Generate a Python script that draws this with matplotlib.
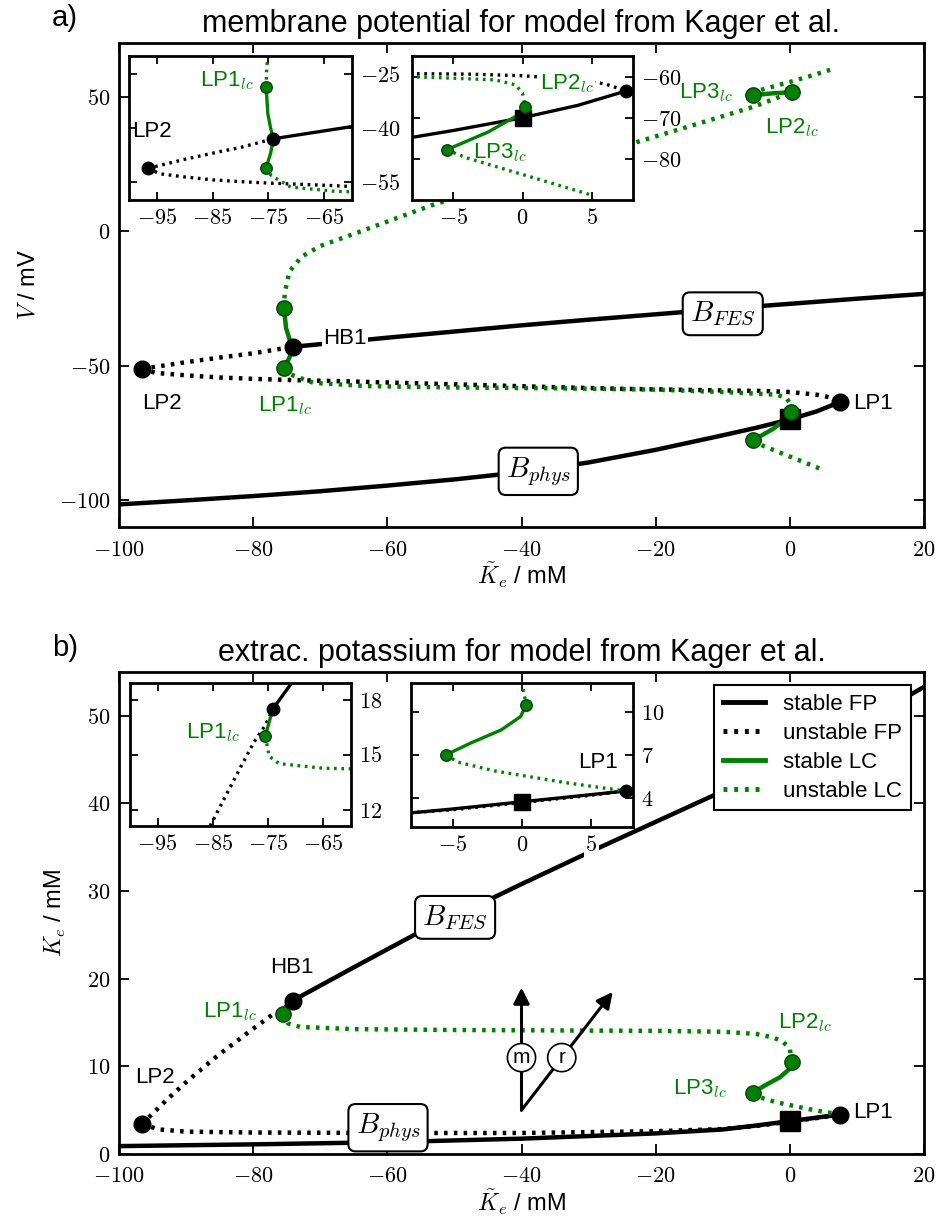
import matplotlib.pyplot as plt
from matplotlib.lines import Line2D
from matplotlib.ticker import FuncFormatter

plt.rcParams['font.family'] = ['Liberation Sans', 'DejaVu Sans']
plt.rcParams['mathtext.fontset'] = 'cm'

GREEN = 'green'
DOT = (0, (0.8, 1.4))

# ---------------- panel a: membrane potential ----------------
a_stable_phys_k = [-100, -90, -80, -70, -60, -50, -40, -30, -20, -10, -5, 0, 4, 7.5]
a_stable_phys_v = [-101.6, -100.1, -98.5, -96.7, -94.6, -92.3, -89.6, -86.0, -81.3, -75.9, -73.1, -70.0, -67.0, -63.5]
a_stable_fes_k = [-74.1, -70, -60, -50, -40, -30, -20, -10, 0, 10, 20]
a_stable_fes_v = [-43.0, -42.0, -39.6, -37.3, -35.0, -32.9, -30.9, -28.9, -27.0, -25.1, -23.3]
a_unst_upper_k = [-96.6, -90, -85, -80, -74.1]
a_unst_upper_v = [-51.2, -48.7, -47.0, -45.4, -43.0]
a_unst_lower_k = [-96.6, -94.5, -90, -85, -80, -75, -65, -55, -45, -35, -25, -15, -8, -4, 0, 4, 6, 7.5]
a_unst_lower_v = [-51.2, -52.7, -53.6, -54.4, -54.9, -55.3, -55.9, -56.6, -57.3, -58.0, -58.6, -59.0, -59.3, -59.4, -59.8, -60.8, -61.8, -63.5]

a_lc_max_st1_k = [-74.1, -74.6, -75.1, -75.4]
a_lc_max_st1_v = [-43.0, -40.0, -36.0, -28.6]
a_lc_min_st1_k = [-74.1, -74.6, -75.4]
a_lc_min_st1_v = [-43.0, -47.0, -51.0]
a_lc_max_un1_k = [-75.4, -75.3, -74.6, -72.8, -70, -65, -59, -53, -45, -35, -23.4, -15, -5.5, 0.3]
a_lc_max_un1_v = [-28.6, -23, -15, -9.5, -5.5, -1, 4.5, 10, 16, 24, 32.7, 39, 46.2, 51.7]
a_lc_max_st2_k = [0.3, -2.5, -5.5]
a_lc_max_st2_v = [51.7, 51.3, 50.6]
a_lc_max_un2_k = [-5.5, -4.4, 0, 3, 6]
a_lc_max_un2_v = [50.6, 52.5, 55.5, 57.7, 60]
a_lc_min_un1_k = [-75.4, -74.5, -71, -63, -50, -35.7, -20, -10, -5, -2, -0.5, 0, 0.2]
a_lc_min_un1_v = [-51.0, -53.2, -56.4, -57.6, -58.1, -58.4, -58.9, -59.8, -60.4, -60.8, -62.0, -64.0, -67.3]
a_lc_min_st2_k = [0.2, -0.5, -2.5, -5.5]
a_lc_min_st2_v = [-67.3, -69.7, -73.5, -77.8]
a_lc_min_un2_k = [-5.5, -4, -1, 2, 5]
a_lc_min_un2_v = [-77.8, -79.8, -82.8, -85.8, -88.8]

a_bif_k = [-96.6, -74.1, 7.5]          # LP2, HB1, LP1
a_bif_v = [-51.2, -43.0, -63.5]
a_lcpt_k = [-75.4, -75.4, 0.2, 0.3, -5.5, -5.5]
a_lcpt_v = [-28.6, -51.0, -67.3, 51.7, 50.6, -77.8]
a_rest_k = [0]
a_rest_v = [-70]

# ---------------- panel b: extracellular potassium ----------------
b_stable_phys_k = [-100, -80, -60, -40, -20, -10, -5, 0, 4, 7.5]
b_stable_phys_ke = [0.9, 1.1, 1.35, 1.75, 2.35, 2.8, 3.25, 3.75, 4.15, 4.5]
b_stable_fes_k = [-74.1, -65, -56, -50, -40, -30, -20, -10, 0, 10, 20]
b_stable_fes_ke = [17.5, 21.3, 25.0, 27.1, 30.8, 34.4, 37.9, 41.4, 45.0, 48.9, 53.3]
b_unst_upper_k = [-96.6, -93, -90, -85.5, -80, -77.5, -75.5, -74.1]
b_unst_upper_ke = [3.4, 6.1, 8.2, 11.1, 14.3, 15.7, 16.6, 17.5]
b_unst_lower_k = [-96.6, -94, -90, -80, -60, -40, -20, -10, -5, 0, 4, 7.5]
b_unst_lower_ke = [3.4, 2.8, 2.55, 2.45, 2.4, 2.4, 2.6, 2.85, 3.2, 3.7, 4.1, 4.5]

b_lc_st1_k = [-74.1, -74.8, -75.5]
b_lc_st1_ke = [17.5, 16.8, 16.0]
b_lc_un1_k = [-75.5, -74.8, -73, -65, -50, -35, -20, -10, -5, -2.5, -1, 0, 0.3]
b_lc_un1_ke = [16.0, 14.9, 14.5, 14.25, 14.15, 14.1, 14.05, 13.95, 13.7, 13.3, 12.8, 12.0, 10.5]
b_lc_st2_k = [0.3, -0.1, -1.5, -3.7, -5.5]
b_lc_st2_ke = [10.5, 9.67, 8.74, 7.83, 7.0]
b_lc_un2_k = [-5.5, -4.6, -2, 0.5, 3, 5.2, 7.5]
b_lc_un2_ke = [7.0, 6.5, 5.9, 5.5, 5.1, 4.8, 4.5]

b_bif_k = [-96.6, -74.1, 7.5]
b_bif_ke = [3.4, 17.5, 4.5]
b_lcpt_k = [-75.5, 0.3, -5.5]
b_lcpt_ke = [16.0, 10.5, 7.0]
b_rest_k = [0]
b_rest_ke = [3.75]

# arrows (direction of m and r) in panel b
arrow_base = (-40, 5.0)
arrow_m_tip = (-40, 19.0)
arrow_r_tip = (-26.4, 18.5)
m_label_pos = (-40, 11.0)
r_label_pos = (-34, 11.0)

main_xticks = [-100, -80, -60, -40, -20, 0, 20]


def fmt(ax):
    f = FuncFormatter(lambda v, p: r'$%g$' % v)
    ax.xaxis.set_major_formatter(f)
    ax.yaxis.set_major_formatter(f)


def style(ax, inset=False):
    ax.tick_params(direction='in', top=True, right=True, length=7 if not inset else 6,
                   width=1.3, labelsize=16, pad=6)
    if inset:
        ax.tick_params(labelleft=False, labelright=True)
    else:
        ax.tick_params(axis='x', pad=9)
    for s in ax.spines.values():
        s.set_linewidth(2.0)
    fmt(ax)


def solid(ax, x, y, c, lw):
    ax.plot(x, y, color=c, lw=lw, solid_capstyle='butt', zorder=2)


def dotted(ax, x, y, c, lw):
    ax.plot(x, y, color=c, lw=lw, linestyle=DOT, zorder=2)


def draw_a(ax, lw, ms):
    solid(ax, a_stable_phys_k, a_stable_phys_v, 'k', lw)
    solid(ax, a_stable_fes_k, a_stable_fes_v, 'k', lw)
    dotted(ax, a_unst_upper_k, a_unst_upper_v, 'k', lw)
    dotted(ax, a_unst_lower_k, a_unst_lower_v, 'k', lw)
    dotted(ax, a_lc_max_un1_k, a_lc_max_un1_v, GREEN, lw)
    dotted(ax, a_lc_max_un2_k, a_lc_max_un2_v, GREEN, lw)
    dotted(ax, a_lc_min_un1_k, a_lc_min_un1_v, GREEN, lw)
    dotted(ax, a_lc_min_un2_k, a_lc_min_un2_v, GREEN, lw)
    solid(ax, a_lc_max_st1_k, a_lc_max_st1_v, GREEN, lw)
    solid(ax, a_lc_min_st1_k, a_lc_min_st1_v, GREEN, lw)
    solid(ax, a_lc_max_st2_k, a_lc_max_st2_v, GREEN, lw)
    solid(ax, a_lc_min_st2_k, a_lc_min_st2_v, GREEN, lw)
    ax.plot(a_rest_k, a_rest_v, 's', color='k', ms=ms * 1.25, zorder=4)
    ax.plot(a_lcpt_k, a_lcpt_v, 'o', color=GREEN, mec='#0a3d0a', mew=1, ms=ms * 0.92, zorder=5)
    ax.plot(a_bif_k, a_bif_v, 'o', color='k', ms=ms, zorder=5)


def draw_b(ax, lw, ms):
    solid(ax, b_stable_phys_k, b_stable_phys_ke, 'k', lw)
    solid(ax, b_stable_fes_k, b_stable_fes_ke, 'k', lw)
    dotted(ax, b_unst_upper_k, b_unst_upper_ke, 'k', lw)
    dotted(ax, b_unst_lower_k, b_unst_lower_ke, 'k', lw)
    dotted(ax, b_lc_un1_k, b_lc_un1_ke, GREEN, lw)
    dotted(ax, b_lc_un2_k, b_lc_un2_ke, GREEN, lw)
    solid(ax, b_lc_st1_k, b_lc_st1_ke, GREEN, lw)
    solid(ax, b_lc_st2_k, b_lc_st2_ke, GREEN, lw)
    ax.plot(b_rest_k, b_rest_ke, 's', color='k', ms=ms * 1.25, zorder=4)
    ax.plot(b_lcpt_k, b_lcpt_ke, 'o', color=GREEN, mec='#0a3d0a', mew=1, ms=ms * 0.92, zorder=5)
    ax.plot(b_bif_k, b_bif_ke, 'o', color='k', ms=ms, zorder=5)


def txt(ax, x, y, s, c='k', size=16, white=False):
    t = ax.text(x, y, s, color=c, fontsize=size, ha='center', va='center', zorder=7)
    if white:
        t.set_bbox(dict(fc='white', ec='none', pad=1))


def box(ax, x, y, s):
    ax.text(x, y, s, fontsize=21, ha='center', va='center', zorder=7,
            bbox=dict(boxstyle='round,pad=0.25', fc='white', ec='k', lw=1.5))


LC = r'$_{lc}$'

fig = plt.figure(figsize=(9.39, 12.24), dpi=100)

# ---------------- panel a ----------------
ax = fig.add_axes([119 / 939, 1 - 527 / 1224, 805 / 939, 484 / 1224])
draw_a(ax, 3.2, 12)
ax.set_xlim(-100, 20)
ax.set_ylim(-110, 70)
ax.set_xticks(main_xticks)
ax.set_yticks([-100, -50, 0, 50])
style(ax)
ax.set_xlabel(r'$\tilde{K}_e$ / mM', fontsize=17, labelpad=0)
ax.set_ylabel(r'$V$ / mV', fontsize=17, labelpad=14)
ax.set_title('membrane potential for model from Kager et al.', fontsize=22, pad=8)
fig.text(52 / 939, 1 - 18 / 1224, 'a)', fontsize=21, va='center')
box(ax, -10, -30.7, r'$B_{FES}$')
box(ax, -37.5, -89.3, r'$B_{phys}$')
txt(ax, -93.6, -64.0, 'LP2')
txt(ax, -66.3, -39.9, 'HB1', white=True)
txt(ax, -75.3, -64.7, 'LP1' + LC, GREEN)
txt(ax, 12.4, -64.0, 'LP1')
txt(ax, -12.5, 51.7, 'LP3' + LC, GREEN)
txt(ax, 0.3, 38.7, 'LP2' + LC, GREEN)

ia1 = fig.add_axes([129 / 939, 1 - 200 / 1224, 223 / 939, 144 / 1224])
draw_a(ia1, 2.4, 9)
ia1.set_xlim(-100, -60)
ia1.set_ylim(-60, -20)
ia1.set_xticks([-95, -85, -75, -65])
ia1.set_yticks([-55, -40, -25])
style(ia1, inset=True)
txt(ia1, -82.5, -26.9, 'LP1' + LC, GREEN)
txt(ia1, -95.9, -41.1, 'LP2')

ia2 = fig.add_axes([412 / 939, 1 - 200 / 1224, 221 / 939, 144 / 1224])
draw_a(ia2, 2.4, 9)
ia2.set_xlim(-8, 8)
ia2.set_ylim(-90, -55)
ia2.set_xticks([-5, 0, 5])
ia2.set_yticks([-80, -70, -60])
style(ia2, inset=True)
txt(ia2, 3.2, -61.6, 'LP2' + LC, GREEN, white=True)
txt(ia2, -1.6, -78.5, 'LP3' + LC, GREEN)

# ---------------- panel b ----------------
bx = fig.add_axes([119 / 939, 1 - 1154 / 1224, 805 / 939, 482 / 1224])
draw_b(bx, 3.2, 12)
bx.set_xlim(-100, 20)
bx.set_ylim(0, 55)
bx.set_xticks(main_xticks)
bx.set_yticks([0, 10, 20, 30, 40, 50])
style(bx)
bx.set_xlabel(r'$\tilde{K}_e$ / mM', fontsize=17, labelpad=0)
bx.set_ylabel(r'$K_e$ / mM', fontsize=17, labelpad=14)
bx.set_title('extrac. potassium for model from Kager et al.', fontsize=22, pad=8)
fig.text(52 / 939, 1 - 648 / 1224, 'b)', fontsize=21, va='center')
box(bx, -49.9, 27.0, r'$B_{FES}$')
box(bx, -59.9, 3.0, r'$B_{phys}$')
txt(bx, -94.6, 8.7, 'LP2')
txt(bx, -74.2, 21.3, 'HB1')
txt(bx, -83.5, 16.2, 'LP1' + LC, GREEN)
txt(bx, 2.3, 15.0, 'LP2' + LC, GREEN)
txt(bx, -13.4, 7.5, 'LP3' + LC, GREEN)
txt(bx, 12.4, 4.7, 'LP1')

for tip in (arrow_m_tip, arrow_r_tip):
    bx.annotate('', xy=tip, xytext=arrow_base, zorder=6,
                arrowprops=dict(arrowstyle='-|>', color='k', lw=2.2, mutation_scale=24,
                                shrinkA=0, shrinkB=0))
for pos, s in ((m_label_pos, 'm'), (r_label_pos, 'r')):
    bx.text(pos[0], pos[1], s, fontsize=15, ha='center', va='center', zorder=7,
            bbox=dict(boxstyle='circle,pad=0.22', fc='white', ec='k', lw=1.2))

handles = [Line2D([], [], color='k', lw=3.5),
           Line2D([], [], color='k', lw=3.5, linestyle=DOT),
           Line2D([], [], color=GREEN, lw=3.5),
           Line2D([], [], color=GREEN, lw=3.5, linestyle=DOT)]
leg = bx.legend(handles, ['stable FP', 'unstable FP', 'stable LC', 'unstable LC'],
                loc='upper right', fontsize=16, fancybox=False, edgecolor='k',
                framealpha=1, handlelength=1.9, borderaxespad=0.6, labelspacing=0.35)
leg.get_frame().set_linewidth(1.5)
leg.set_zorder(10)

ib1 = fig.add_axes([130 / 939, 1 - 826 / 1224, 221 / 939, 143 / 1224])
draw_b(ib1, 2.4, 9)
ib1.set_xlim(-100, -60)
ib1.set_ylim(11.1, 18.9)
ib1.set_xticks([-95, -85, -75, -65])
ib1.set_yticks([12, 15, 18])
style(ib1, inset=True)
txt(ib1, -85, 16.2, 'LP1' + LC, GREEN)

ib2 = fig.add_axes([411 / 939, 1 - 827 / 1224, 222 / 939, 144 / 1224])
draw_b(ib2, 2.4, 9)
ib2.set_xlim(-8, 8)
ib2.set_ylim(2, 12)
ib2.set_xticks([-5, 0, 5])
ib2.set_yticks([4, 7, 10])
style(ib2, inset=True)
for lab in ib2.get_xticklabels():
    lab.set_bbox(dict(fc='white', ec='none', pad=1))
txt(ib2, 5.5, 6.5, 'LP1')

fig.savefig('out.png', dpi=100)
